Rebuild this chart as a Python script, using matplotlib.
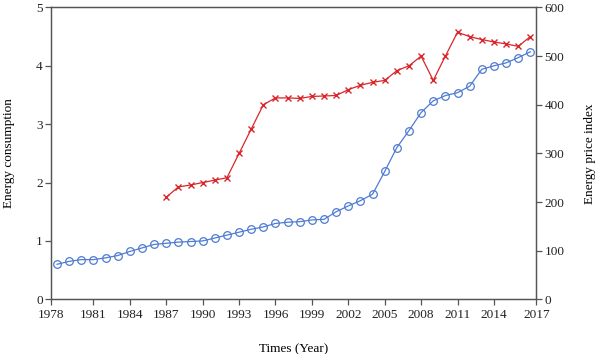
import numpy as np
import matplotlib
matplotlib.use('Agg')
import matplotlib.pyplot as plt

plt.rc('font', family='Liberation Serif', size=9.5)

# Energy consumption (left axis), 1978-2017
years = np.arange(1978, 2018)
consumption = [0.60, 0.65, 0.68, 0.68, 0.71, 0.75, 0.82, 0.88, 0.94, 0.96,
               0.98, 0.99, 1.00, 1.05, 1.10, 1.15, 1.20, 1.24, 1.30, 1.32,
               1.33, 1.36, 1.37, 1.50, 1.60, 1.69, 1.80, 2.19, 2.60, 2.89,
               3.20, 3.40, 3.49, 3.54, 3.65, 3.94, 4.00, 4.05, 4.14, 4.24]

# Energy price index (right axis), 1987-2017
price_years = np.arange(1987, 2018)
price_index = [210, 231, 235, 240, 245, 250, 300, 350, 400, 414,
               414, 413, 417, 418, 419, 431, 440, 446, 450, 470,
               480, 500, 450, 500, 549, 540, 534, 529, 525, 520, 540]

tick_pos = [1977.5, 1981, 1984, 1987, 1990, 1993, 1996, 1999, 2002,
            2005, 2008, 2011, 2014, 2017.5]
tick_labels = ['1978', '1981', '1984', '1987', '1990', '1993', '1996',
               '1999', '2002', '2005', '2008', '2011', '2014', '2017']

spine_col = '#555555'
blue = '#4f7bd3'
red = '#d8262b'

fig = plt.figure(figsize=(6, 3.54), dpi=100)
ax = fig.add_axes([0.085, 0.1545, 0.809, 0.8245])
ax2 = ax.twinx()

ax.plot(years, consumption, color=blue, lw=0.9, marker='o', ms=5.5,
        mfc='none', mec=blue, mew=0.9)
ax2.plot(price_years, price_index, color=red, lw=0.9, marker='x', ms=4,
         mec=red, mew=1.0)

ax.set_xlim(1977.5, 2017.5)
ax.set_ylim(0, 5)
ax2.set_ylim(0, 600)
ax.set_xticks(tick_pos)
ax.set_xticklabels(tick_labels)
ax.set_yticks([0, 1, 2, 3, 4, 5])
ax2.set_yticks([0, 100, 200, 300, 400, 500, 600])

for a in (ax, ax2):
    for s in a.spines.values():
        s.set_color(spine_col)
        s.set_linewidth(0.9)
    a.tick_params(direction='out', length=4, width=0.9, color=spine_col,
                  labelcolor='#222222', pad=2)
ax.tick_params(axis='x', pad=3)

ax.set_xlabel('Times (Year)', labelpad=16)
ax.set_ylabel('Energy consumption', labelpad=15)
ax2.set_ylabel('Energy price index', labelpad=14)

plt.savefig('out.png', dpi=100)
